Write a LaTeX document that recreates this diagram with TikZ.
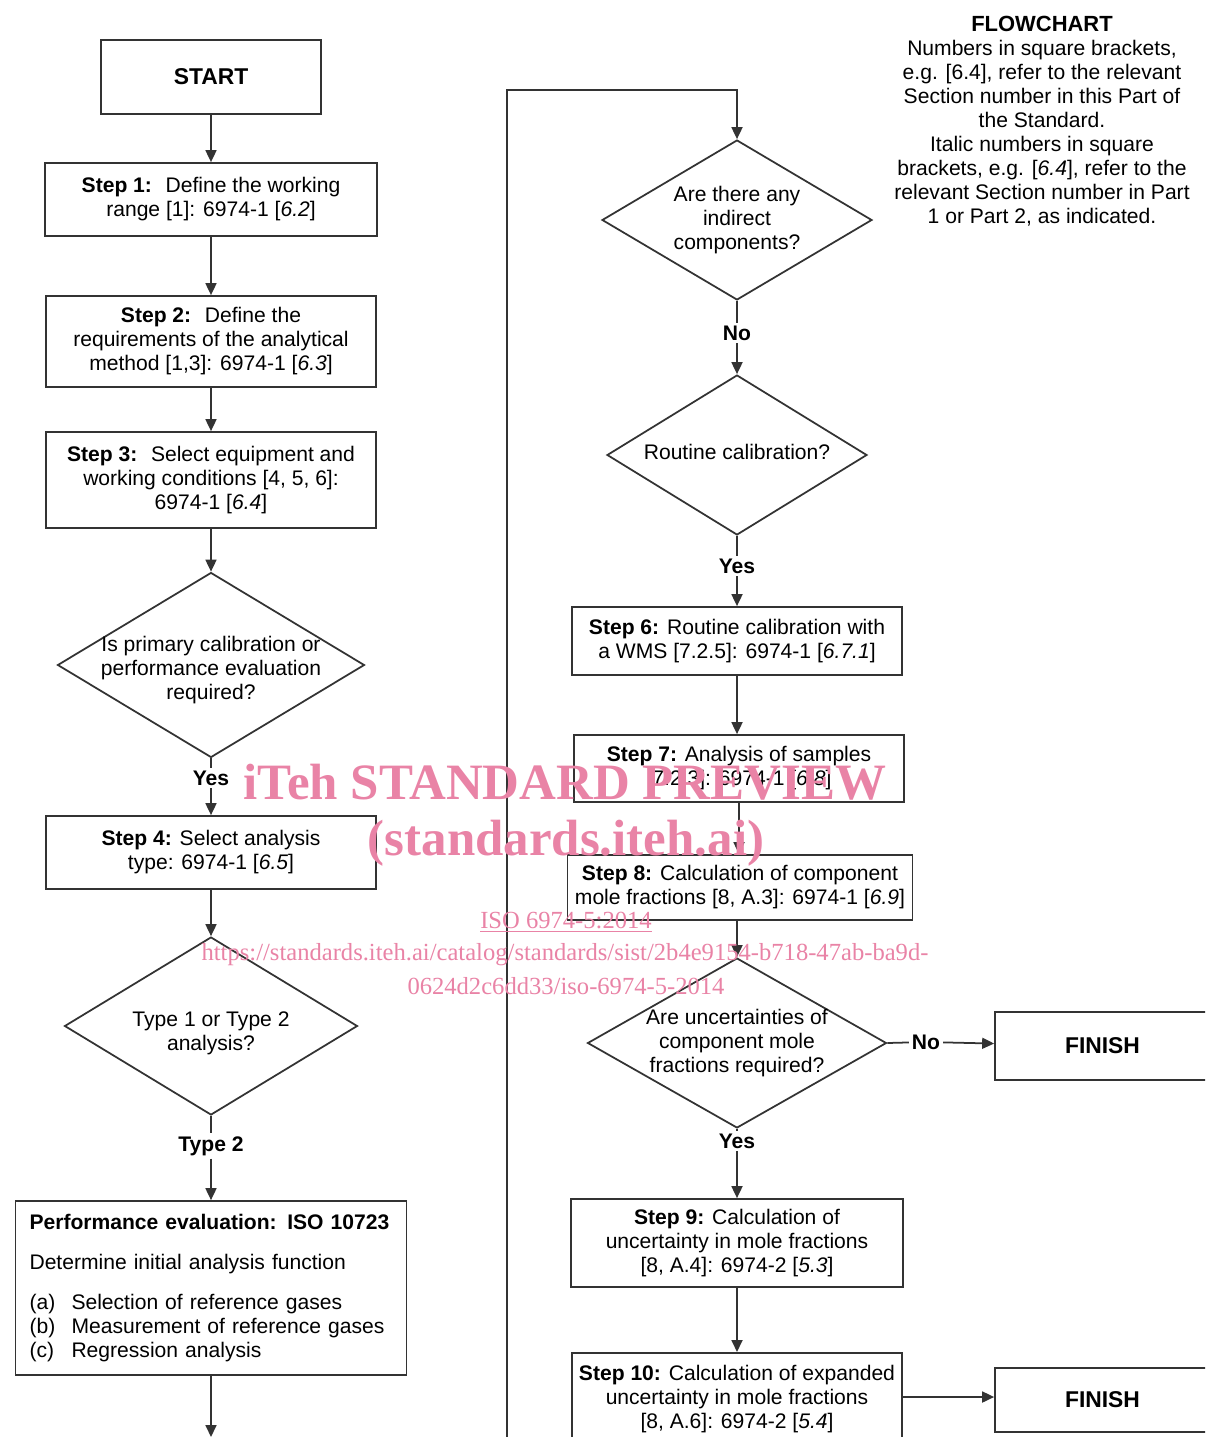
\documentclass[tikz,border=0pt]{standalone}
\usepackage{fontspec}
\setmainfont{Liberation Sans}
\newfontfamily\wmfont{Liberation Serif}
\usepackage{xcolor}
\usetikzlibrary{arrows.meta,shapes.geometric}

\definecolor{wmpink}{RGB}{233,131,166}
\newcommand{\chartfont}{\fontsize{12pt}{13.66pt}\selectfont}
\newcommand{\bigfont}{\fontsize{13pt}{14pt}\selectfont\bfseries}

\begin{document}
\begin{tikzpicture}[x=0.02cm,y=-0.02cm,
    box/.style={draw=black!80, line width=1pt, align=center, font=\chartfont, inner sep=2pt},
    decision/.style={draw=black!80, line width=1pt, diamond, inner sep=0pt},
    qtext/.style={align=center, font=\chartfont, inner sep=0pt},
    answer/.style={font=\chartfont\bfseries, inner sep=1.5pt},
    arr/.style={draw=black!80, line width=1pt, -{Triangle[length=0.24cm,width=0.22cm]}},
    wm/.style={text=wmpink, align=center, inner sep=0pt}]
    \useasboundingbox (0,0) rectangle (1205,1437);
    \clip (0,0) rectangle (1205,1437);

    % Left column
    \node[box, font=\bigfont, minimum width=4.4cm, minimum height=1.48cm] (start) at (211,77) {START};
    \node[box, minimum width=6.64cm, minimum height=1.46cm] (s1) at (211,199.5)
        {\textbf{Step 1:}~ Define the working\\ range [1]: 6974-1 [\textit{6.2}]};
    \node[box, minimum width=6.6cm, minimum height=1.82cm] (s2) at (211,341.5)
        {\textbf{Step 2:}~ Define the\\ requirements of the analytical\\ method [1,3]: 6974-1 [\textit{6.3}]};
    \node[box, minimum width=6.6cm, minimum height=1.92cm] (s3) at (211,480)
        {\textbf{Step 3:}~ Select equipment and\\ working conditions [4, 5, 6]:\\ 6974-1 [\textit{6.4}]};
    \node[decision, minimum width=6.14cm, minimum height=3.7cm] (d1) at (211,665) {};
    \node[qtext] (d1t) at (211,670) {Is primary calibration or\\ performance evaluation\\ required?};
    \node[answer] (yes1) at (211,778) {Yes};
    \node[box, minimum width=6.6cm, minimum height=1.46cm] (s4) at (211,852.5)
        {\textbf{Step 4:} Select analysis\\ type: 6974-1 [\textit{6.5}]};
    \node[decision, minimum width=5.86cm, minimum height=3.56cm] (d2) at (211,1026) {};
    \node[qtext] (d2t) at (211,1033) {Type 1 or Type 2\\ analysis?};
    \node[answer] (type2) at (211,1146) {Type 2};
    \node[box, minimum width=7.82cm, minimum height=3.48cm, text width=7.26cm, inner xsep=0.28cm, align=left] (perf) at (211,1288)
        {\textbf{Performance evaluation: ISO 10723}\\[9pt]
         Determine initial analysis function\\[9pt]
         \makebox[0.84cm][l]{(a)}Selection of reference gases\\
         \makebox[0.84cm][l]{(b)}Measurement of reference gases\\
         \makebox[0.84cm][l]{(c)}Regression analysis};
    \coordinate (outl) at (211,1437);

    % Right column
    \coordinate (inr) at (507,1437);
    \coordinate (topr) at (737,90);
    \node[decision, minimum width=5.4cm, minimum height=3.2cm] (d3) at (737,220) {};
    \node[qtext] (d3t) at (737,220) {Are there any\\ indirect\\ components?};
    \node[answer] (no1) at (737,333) {No};
    \node[decision, minimum width=5.2cm, minimum height=3.2cm] (d4) at (737,455) {};
    \node[qtext] (d4t) at (737,452) {Routine calibration?};
    \node[answer] (yes2) at (737,566) {Yes};
    \node[box, minimum width=6.6cm, minimum height=1.36cm] (s6) at (737,641)
        {\textbf{Step 6:} Routine calibration with\\ a WMS [7.2.5]: 6974-1 [\textit{6.7.1}]};
    \node[box, minimum width=6.6cm, minimum height=1.34cm] (s7) at (739,768.5)
        {\textbf{Step 7:} Analysis of samples\\ {[}7.2.3]: 6974-1 [\textit{6.8}]};
    \node[box, minimum width=6.9cm, minimum height=1.3cm] (s8) at (740,887.5)
        {\textbf{Step 8:} Calculation of component\\ mole fractions [8, A.3]: 6974-1 [\textit{6.9}]};
    \node[decision, minimum width=5.98cm, minimum height=3.4cm] (d5) at (737,1043) {};
    \node[qtext] (d5t) at (737,1043) {Are uncertainties of\\ component mole\\ fractions required?};
    \node[answer] (no2) at (926,1042) {No};
    \node[box, font=\bigfont, minimum width=4.3cm, minimum height=1.36cm] (fin1) at (1102.5,1046) {FINISH};
    \node[answer] (yes3) at (737,1141) {Yes};
    \node[box, minimum width=6.64cm, minimum height=1.76cm] (s9) at (737,1243)
        {\textbf{Step 9:} Calculation of\\ uncertainty in mole fractions\\ {[}8, A.4]: 6974-2 [\textit{5.3}]};
    \node[box, anchor=north, minimum width=6.6cm, minimum height=1.84cm] (s10) at (737,1352)
        {\textbf{Step 10:} Calculation of expanded\\ uncertainty in mole fractions\\ {[}8, A.6]: 6974-2 [\textit{5.4}]};
    \node[box, font=\bigfont, minimum width=4.3cm, minimum height=1.28cm] (fin2) at (1102.5,1400) {FINISH};

    % Notes
    \node[align=center, font=\chartfont] (note) at (1042,121)
        {{\fontsize{12.5pt}{13.66pt}\selectfont\bfseries FLOWCHART}\\
         Numbers in square brackets,\\
         e.g. [6.4], refer to the relevant\\
         Section number in this Part of\\
         the Standard.\\
         Italic numbers in square\\
         brackets, e.g. [\textit{6.4}], refer to the\\
         relevant Section number in Part\\
         1 or Part 2, as indicated.};

    % Connectors, left
    \draw[arr] (start) -- (s1);
    \draw[arr] (s1) -- (s2);
    \draw[arr] (s2) -- (s3);
    \draw[arr] (s3) -- (d1);
    \draw[line width=1pt, black!80] (d1) -- (yes1);
    \draw[arr] (yes1) -- (s4);
    \draw[arr] (s4) -- (d2);
    \draw[line width=1pt, black!80] (d2) -- (type2);
    \draw[arr] (type2) -- (perf);
    \draw[arr] (perf) -- (outl);

    % Connectors, right
    \draw[arr] (inr) |- (topr) -- (d3);
    \draw[line width=1pt, black!80] (d3) -- (no1);
    \draw[arr] (no1) -- (d4);
    \draw[line width=1pt, black!80] (d4) -- (yes2);
    \draw[arr] (yes2) -- (s6);
    \draw[arr] (s6.south) -- (s6.south |- s7.north);
    \draw[arr] (s7.south) -- (s7.south |- s8.north);
    \draw[arr] (s8.south -| d5.north) -- (d5.north);
    \draw[line width=1pt, black!80] (d5.east) -- (no2);
    \draw[arr] (no2) -- (fin1);
    \draw[line width=1pt, black!80] (d5) -- (yes3);
    \draw[arr] (yes3) -- (s9);
    \draw[arr] (s9) -- (s10);
    \draw[arr] (s10.east |- 0,1397) -- (fin2.west |- 0,1397);

    % Watermark
    \node[wm, font=\wmfont\bfseries\fontsize{29pt}{30pt}\selectfont] (wm1) at (565,782) {iTeh STANDARD PREVIEW};
    \node[wm, font=\wmfont\bfseries\fontsize{29pt}{30pt}\selectfont] (wm2) at (566,843) {(standards.iteh.ai)};
    \node[wm, font=\wmfont\fontsize{14pt}{15pt}\selectfont] (wm3) at (566,922) {\underline{ISO 6974-5:2014}};
    \node[wm, font=\wmfont\fontsize{14pt}{15pt}\selectfont] (wm4) at (565,955)
        {https://standards.iteh.ai/catalog/standards/sist/2b4e9154-b718-47ab-ba9d-};
    \node[wm, font=\wmfont\fontsize{14pt}{15pt}\selectfont] (wm5) at (566,986) {0624d2c6dd33/iso-6974-5-2014};
\end{tikzpicture}
\end{document}
